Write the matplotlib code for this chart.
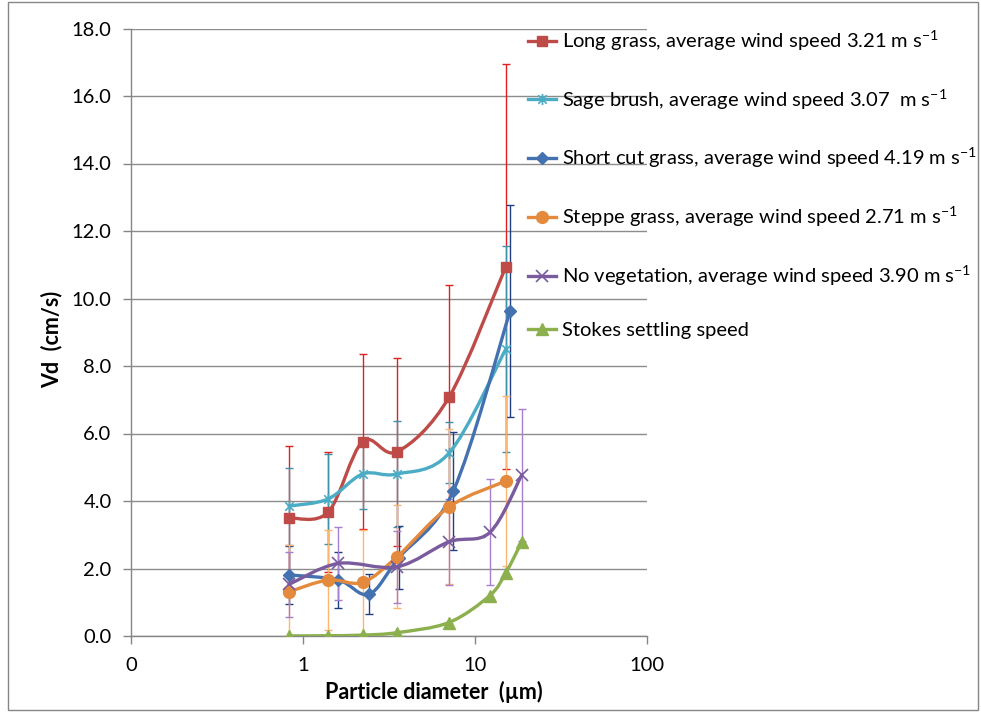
import numpy as np
import matplotlib
matplotlib.use('Agg')
import matplotlib.pyplot as plt
from matplotlib.path import Path
from matplotlib.patches import PathPatch, Rectangle
from matplotlib.lines import Line2D

plt.rcParams['font.family'] = ['Lato', 'DejaVu Sans']

# ---- data ----
long_x = [0.83, 1.40, 2.22, 3.53, 7.09, 15.1]
long_y = [3.50, 3.67, 5.76, 5.46, 7.09, 10.94]
long_err = [2.14, 1.77, 2.60, 2.79, 3.32, 6.00]

sage_x = [0.83, 1.40, 2.22, 3.53, 7.09, 15.1]
sage_y = [3.85, 4.06, 4.80, 4.80, 5.43, 8.50]
sage_err = [1.14, 1.32, 1.05, 1.58, 0.90, 3.05]

short_x = [0.83, 1.60, 2.42, 3.61, 7.48, 16.0]
short_y = [1.81, 1.66, 1.24, 2.32, 4.30, 9.63]
short_err = [0.87, 0.82, 0.60, 0.94, 1.75, 3.14]

steppe_x = [0.83, 1.40, 2.22, 3.53, 7.09, 15.1]
steppe_y = [1.31, 1.66, 1.59, 2.35, 3.83, 4.59]
steppe_err = [1.39, 1.48, 1.55, 1.53, 2.30, 2.52]

noveg_x = [0.83, 1.60, 3.53, 7.05, 12.2, 18.7]
noveg_y = [1.53, 2.15, 2.05, 2.79, 3.07, 4.77]
noveg_err = [0.97, 1.08, 1.06, 1.28, 1.57, 1.95]

stokes_x = [0.83, 1.40, 2.22, 3.53, 7.05, 12.2, 15.1, 18.7]
stokes_y = [0.003, 0.009, 0.027, 0.10, 0.40, 1.20, 1.87, 2.79]

unit = r'm s$^{\mathregular{-1}}$'
labels = [
    'Long grass, average wind speed 3.21 ' + unit,
    'Sage brush, average wind speed 3.07  ' + unit,
    'Short cut grass, average wind speed 4.19 ' + unit,
    'Steppe grass, average wind speed 2.71 ' + unit,
    'No vegetation, average wind speed 3.90 ' + unit,
    'Stokes settling speed',
]

# asterisk marker like Excel's "star"
star = Path([(-1, -1), (1, 1), (-1, 1), (1, -1), (0, -1.3), (0, 1.3)],
            [Path.MOVETO, Path.LINETO, Path.MOVETO, Path.LINETO, Path.MOVETO, Path.LINETO])


def smooth_path(x, y):
    # Catmull-Rom style smoothing (like Excel's smoothed line), done in log-x space
    pts = np.column_stack([np.log10(x), y])
    n = len(pts)
    verts = [pts[0]]
    codes = [Path.MOVETO]
    for i in range(n - 1):
        p0 = pts[i - 1] if i > 0 else pts[i]
        p1 = pts[i]
        p2 = pts[i + 1]
        p3 = pts[i + 2] if i + 2 < n else pts[i + 1]
        verts += [p1 + (p2 - p0) / 6, p2 - (p3 - p1) / 6, p2]
        codes += [Path.CURVE4] * 3
    verts = np.array(verts)
    verts[:, 0] = 10 ** verts[:, 0]
    return Path(verts, codes)


fig = plt.figure(figsize=(9.81, 7.12), dpi=100)
ax = fig.add_axes([131 / 981, 1 - 636 / 712, (647 - 131) / 981, (636 - 28.5) / 712])

series = [
    (long_x, long_y, long_err, '#BE4B48', '#E02020', 's', 7.5, None),
    (sage_x, sage_y, sage_err, '#4BACC6', '#3F93A8', star, 8, 1.2),
    (short_x, short_y, short_err, '#4472B0', '#1F3F80', 'D', 6.5, None),
    (steppe_x, steppe_y, steppe_err, '#E48A3C', '#FFB570', 'o', 8.5, None),
    (noveg_x, noveg_y, noveg_err, '#7A5C9E', '#A77ED0', 'x', 8, 1.2),
    (stokes_x, stokes_y, None, '#8DB04F', None, '^', 8.5, None),
]

handles = []
for k, (x, y, err, col, ecol, mk, ms, mew) in enumerate(series):
    if err is not None:
        ax.errorbar(x, y, yerr=err, fmt='none', ecolor=ecol, elinewidth=1.0,
                    capsize=3, capthick=1.0, zorder=2 + k * 0.1)
    ax.add_patch(PathPatch(smooth_path(x, y), fill=False, edgecolor=col,
                           lw=2.4, zorder=3 + k * 0.1, capstyle='round'))
    kw = dict(marker=mk, markersize=ms, color=col, markerfacecolor=col,
              markeredgecolor=col)
    if mew:
        kw['markeredgewidth'] = mew
    ax.plot(x, y, linestyle='none', zorder=3.05 + k * 0.1, **kw)
    handles.append(Line2D([], [], lw=2.4, **kw))

ax.set_xscale('log')
ax.set_xlim(0.1, 100)
ax.set_ylim(0, 18)
ax.set_xticks([0.1, 1, 10, 100])
ax.set_xticklabels(['0', '1', '10', '100'])
ax.xaxis.set_minor_locator(matplotlib.ticker.NullLocator())
ax.set_yticks(np.arange(0, 18.1, 2))
ax.set_yticklabels(['%.1f' % v for v in np.arange(0, 18.1, 2)])
ax.tick_params(axis='both', labelsize=14.5, color='#868686', length=6, width=1)
ax.tick_params(axis='x', pad=9)
ax.tick_params(axis='y', pad=8)
ax.grid(axis='y', color='#8c8c8c', lw=1)
ax.set_axisbelow(True)
for s in ['top', 'right']:
    ax.spines[s].set_visible(False)
for s in ['left', 'bottom']:
    ax.spines[s].set_color('#868686')
    ax.spines[s].set_linewidth(1)

fig.text(434 / 981, 1 - 692 / 712, 'Particle diameter  (µm)', fontsize=15.5,
         fontweight='bold', ha='center', va='center')
fig.text(52 / 981, 1 - 339 / 712, 'Vd  (cm/s)', fontsize=15.5,
         fontweight='bold', ha='center', va='center', rotation=90)

leg = ax.legend(handles, labels, loc='upper left', bbox_to_anchor=(520 / 981, 1 - 20 / 712),
                bbox_transform=fig.transFigure, frameon=False, fontsize=14.5,
                handlelength=1.4, handletextpad=0.3, labelspacing=1.68,
                borderaxespad=0)

fig.patches.append(Rectangle((8 / 981, 1 - 710 / 712), 970 / 981, 708 / 712,
                             transform=fig.transFigure, fill=False,
                             edgecolor='#868686', lw=1))

plt.savefig('out.png', dpi=100)
